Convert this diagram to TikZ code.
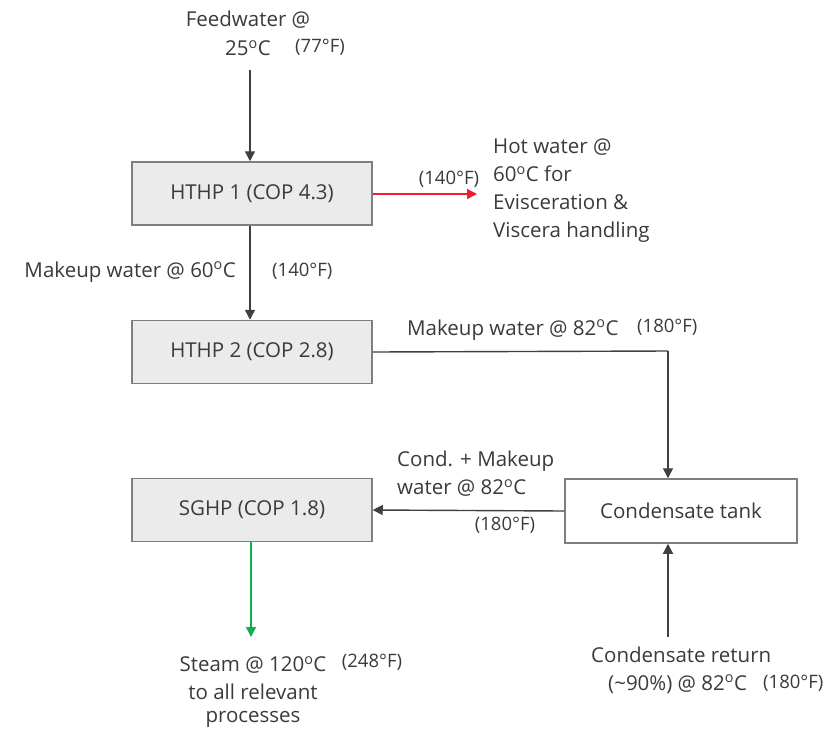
\documentclass[tikz,border=0pt]{standalone}
\usepackage{fontspec}
\setmainfont{Open Sans}
\usetikzlibrary{arrows.meta}
\definecolor{txt}{HTML}{3A3A3A}
\definecolor{boxfill}{HTML}{EBEBEB}
\definecolor{boxline}{HTML}{7F7F7F}
\definecolor{linec}{HTML}{404040}
\definecolor{redc}{HTML}{F0202A}
\definecolor{greenc}{HTML}{10B050}
\newcommand{\degC}{\textsuperscript{o}C}
\tikzset{
  x=1pt,y=-1pt,
  every node/.style={text=txt,font=\fontsize{20.5}{28}\selectfont,inner sep=0pt},
  small/.style={font=\fontsize{18.5}{24}\selectfont},
  hpbox/.style={draw=boxline,line width=1.5pt,fill=boxfill,minimum width=240pt,minimum height=63pt},
  tankbox/.style={draw=boxline,line width=1.5pt,fill=white,minimum width=232pt,minimum height=64pt},
  flow/.style={draw=linec,line width=1.4pt,-{Triangle[length=10pt,width=10pt]}},
  line/.style={draw=linec,line width=1.4pt},
}
\begin{document}
\begin{tikzpicture}
\useasboundingbox (0,0) rectangle (827,737);
% boxes
\node[hpbox] (h1) at (252,193.5) {HTHP 1 (COP 4.3)};
\node[hpbox] (h2) at (252,352) {HTHP 2 (COP 2.8)};
\node[hpbox] (sg) at (252,510) {SGHP (COP 1.8)};
\node[tankbox] (ct) at (681,511) {Condensate tank};
% labels
\node (fw1) at (248,20) {Feedwater @};
\node (fw2) at (248,48) {25\degC};
\node[small] (fw3) at (320,47) {(77°F)};
\coordinate (fwtop) at (250,70);
\node[small] (hw140) at (449,179) {(140°F)};
\node[anchor=west,align=left] (hw) at (493,191) {Hot water @\\60\degC{} for\\Evisceration \&\\Viscera handling};
\node[anchor=east] (mw60) at (236,272) {Makeup water @ 60\degC};
\node[small,anchor=west] (mw60f) at (272,271) {(140°F)};
\node[anchor=west] (mw82) at (407,330) {Makeup water @ 82\degC};
\node[small,anchor=west] (mw82f) at (637,327) {(180°F)};
\coordinate (corner) at (668,351);
\node[anchor=west,align=left] (cm) at (397,474) {Cond. + Makeup\\water @ 82\degC};
\node[small] (cmf) at (505,525) {(180°F)};
\node (st1) at (253,665) {Steam @ 120\degC};
\node[small] (st1f) at (372,662) {(248°F)};
\node (st2) at (253,692) {to all relevant};
\node (st3) at (253,719) {processes};
\coordinate (stend) at (251,637);
\coordinate (hwend) at (477,194);
\node[anchor=west] (cr1) at (591,655) {Condensate return};
\node[anchor=west] (cr2) at (608,684) {(\textasciitilde90\%) @ 82\degC};
\node[small,anchor=west] (cr2f) at (763,683) {(180°F)};
\coordinate (crstart) at (668,637);
% connectors
\draw[flow] (fwtop) -- (h1.north -| fwtop);
\draw[flow,draw=redc,-{Triangle[length=10pt,width=10pt,fill=redc]},color=redc] (h1.east |- hwend) -- (hwend);
\draw[flow] (h1.south -| fwtop) -- (h2.north -| fwtop);
\draw[line] (h2.east) -- (corner);
\draw[flow] (corner) -- (ct.north -| corner);
\draw[flow] (ct.west) -- (sg.east);
\draw[flow,color=greenc] (sg.south -| stend) -- (stend);
\draw[flow] (crstart) -- (ct.south -| crstart);
\end{tikzpicture}
\end{document}
